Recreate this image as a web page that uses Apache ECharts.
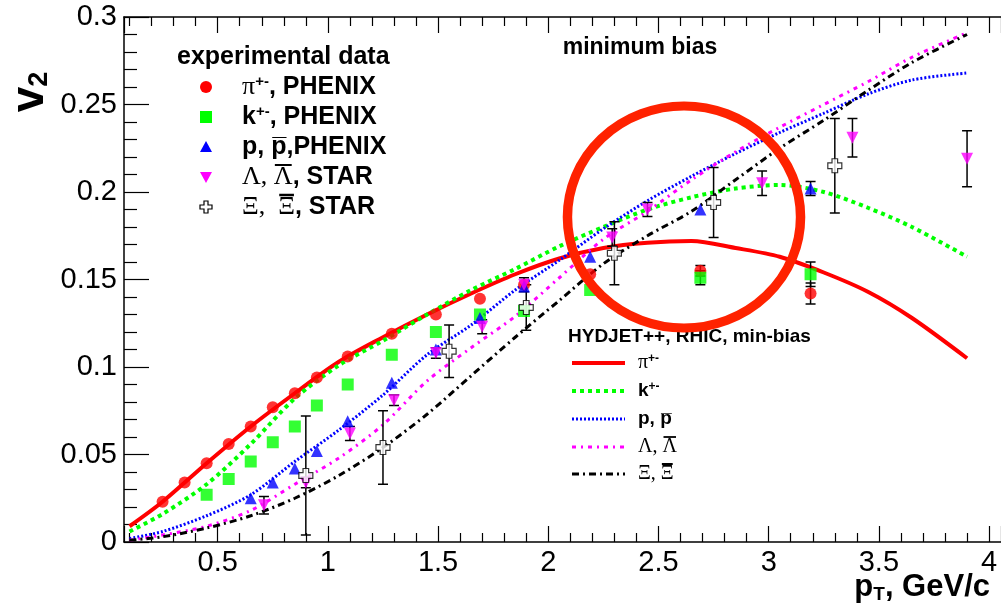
<!DOCTYPE html>
<html>
<head>
<meta charset="utf-8">
<script src="https://cdn.jsdelivr.net/npm/echarts@6/dist/echarts.min.js"></script>
<style>
  html, body { margin: 0; padding: 0; background: #fff; }
  #chart { width: 1001px; height: 609px; }
</style>
</head>
<body>
<div id="chart"></div>
<script>
// model curves (HYDJET++), common pT grid
const modelPt   = [0.1, 0.25, 0.45, 0.65, 0.85, 1.05, 1.25, 1.45, 1.65, 1.85, 2.05, 2.25, 2.45, 2.65, 2.85, 3.05, 3.25, 3.45, 3.65, 3.9];
const modelPi   = [0.009, 0.023, 0.045, 0.066, 0.085, 0.103, 0.117, 0.130, 0.142, 0.153, 0.162, 0.168, 0.171, 0.172, 0.168, 0.163, 0.154, 0.143, 0.128, 0.105];
const modelK    = [0.006, 0.016, 0.033, 0.056, 0.082, 0.101, 0.115, 0.130, 0.144, 0.156, 0.169, 0.180, 0.190, 0.197, 0.202, 0.204, 0.200, 0.191, 0.180, 0.163];
const modelP    = [0.002, 0.006, 0.015, 0.027, 0.046, 0.064, 0.084, 0.107, 0.124, 0.144, 0.161, 0.179, 0.195, 0.209, 0.222, 0.234, 0.245, 0.256, 0.264, 0.268];
const modelLam  = [0.001, 0.004, 0.009, 0.018, 0.033, 0.048, 0.067, 0.092, 0.111, 0.129, 0.151, 0.173, 0.189, 0.207, 0.223, 0.237, 0.250, 0.263, 0.277, 0.291];
const modelXi   = [0.001, 0.003, 0.008, 0.015, 0.025, 0.038, 0.054, 0.073, 0.095, 0.117, 0.138, 0.159, 0.175, 0.189, 0.207, 0.225, 0.241, 0.258, 0.274, 0.290];

// experimental data
const piPt  = [0.25, 0.35, 0.45, 0.55, 0.65, 0.75, 0.85, 0.95, 1.09, 1.29, 1.49, 1.69, 1.89, 2.19, 2.69, 3.19];
const piV2  = [0.023, 0.034, 0.045, 0.056, 0.066, 0.077, 0.085, 0.094, 0.106, 0.119, 0.130, 0.139, 0.147, 0.153, 0.155, 0.142];
const piErr = [0, 0, 0, 0, 0, 0, 0, 0, 0, 0, 0, 0, 0, 0, 0.003, 0.006];

const kPt  = [0.45, 0.55, 0.65, 0.75, 0.85, 0.95, 1.09, 1.29, 1.49, 1.69, 1.89, 2.19, 2.69, 3.19];
const kV2  = [0.027, 0.036, 0.046, 0.057, 0.066, 0.078, 0.090, 0.107, 0.120, 0.130, 0.132, 0.144, 0.151, 0.153];
const kErr = [0, 0, 0, 0, 0, 0, 0, 0, 0, 0, 0, 0, 0.004, 0.007];

const pPt  = [0.65, 0.75, 0.85, 0.95, 1.09, 1.29, 1.49, 1.69, 1.89, 2.19, 2.69, 3.19];
const pV2  = [0.025, 0.034, 0.042, 0.052, 0.069, 0.091, 0.110, 0.128, 0.146, 0.163, 0.190, 0.202];
const pErr = [0, 0, 0, 0, 0, 0, 0, 0, 0, 0, 0, 0.004];

const lamPt  = [0.71, 0.90, 1.10, 1.30, 1.49, 1.70, 1.89, 2.29, 2.45, 2.97, 3.38, 3.90];
const lamV2  = [0.021, 0.034, 0.062, 0.081, 0.108, 0.123, 0.147, 0.174, 0.190, 0.205, 0.231, 0.219];
const lamErr = [0.005, 0.003, 0.004, 0.003, 0.003, 0.004, 0.004, 0.005, 0.004, 0.007, 0.011, 0.016];

const xiPt  = [0.90, 1.25, 1.55, 1.90, 2.30, 2.75, 3.30];
const xiV2  = [0.038, 0.054, 0.109, 0.134, 0.165, 0.194, 0.215];
const xiErr = [0.034, 0.021, 0.015, 0.013, 0.018, 0.020, 0.027];

const SANS = 'Liberation Sans, Arial, DejaVu Sans, sans-serif';
const SERIF = 'Liberation Serif, Times New Roman, DejaVu Serif, serif';

const pairs = (xs, ys) => xs.map((x, i) => [x, ys[i]]);

function modelLine(name, ys, color, width, dash) {
  return {
    name: name, type: 'line', data: pairs(modelPt, ys),
    showSymbol: false, smooth: 0.3, z: 3,
    lineStyle: { color: color, width: width, type: dash }
  };
}

function points(name, xs, ys, symbol, size, color, extra) {
  return Object.assign({
    name: name, type: 'scatter', data: pairs(xs, ys),
    symbol: symbol, symbolSize: size, z: 5,
    itemStyle: { color: color }
  }, extra || {});
}

function errorBars(xs, ys, errs) {
  const data = [];
  xs.forEach((x, i) => {
    if (errs[i] > 0) data.push([x, Math.max(0, ys[i] - errs[i]), ys[i] + errs[i]]);
  });
  return {
    type: 'custom', data: data, z: 4,
    encode: { x: 0, y: [1, 2] },
    renderItem: (params, api) => {
      const lo = api.coord([api.value(0), api.value(1)]);
      const hi = api.coord([api.value(0), api.value(2)]);
      const st = { stroke: '#000', lineWidth: 1.5 };
      return {
        type: 'group', children: [
          { type: 'line', shape: { x1: lo[0], y1: lo[1], x2: hi[0], y2: hi[1] }, style: st },
          { type: 'line', shape: { x1: lo[0] - 5, y1: lo[1], x2: lo[0] + 5, y2: lo[1] }, style: st },
          { type: 'line', shape: { x1: hi[0] - 5, y1: hi[1], x2: hi[0] + 5, y2: hi[1] }, style: st }
        ]
      };
    }
  };
}

const crossPath = 'path://M3,0 H7 V3 H10 V7 H7 V10 H3 V7 H0 V3 H3 Z';

// text measuring, for the bars over the antiparticle symbols
const mctx = document.createElement('canvas').getContext('2d');
function textW(str, font) { mctx.font = font; return mctx.measureText(str).width; }

function overline(x, y, before, sym, font, width) {
  const x0 = x + textW(before, font);
  const x1 = x0 + textW(sym, font);
  return { type: 'line', shape: { x1: x0 + 1, y1: y, x2: x1 - 1, y2: y }, style: { stroke: '#000', lineWidth: width }, z: 20 };
}

const chart = echarts.init(document.getElementById('chart'));

const F1 = 25, F2 = 19;
const supRich = {
  g: { fontFamily: SERIF, fontSize: F1 + 1, color: '#000' },
  b: { fontFamily: SANS, fontSize: F1, fontWeight: 'bold', color: '#000' },
  sup: { fontFamily: SANS, fontSize: 15, fontWeight: 'bold', color: '#000', verticalAlign: 'top', padding: [0, 0, 11, 0] }
};
const supRich2 = {
  g: { fontFamily: SERIF, fontSize: F2 + 1, color: '#000' },
  b: { fontFamily: SANS, fontSize: F2, fontWeight: 'bold', color: '#000' },
  sup: { fontFamily: SANS, fontSize: 12, fontWeight: 'bold', color: '#000', verticalAlign: 'top', padding: [0, 0, 8, 0] }
};
const serif1 = (F1 + 1) + 'px ' + SERIF;
const serif2 = (F2 + 1) + 'px ' + SERIF;

function legText(x, y, text, rich) {
  return { type: 'text', x: x, y: y, style: { text: text, rich: rich, verticalAlign: 'middle', fill: '#000' }, z: 20 };
}

const leg1Y = [87, 117, 147, 177, 207];
const leg2Y = [363, 391, 419, 447, 474];

const graphics = [
  // annotation ring
  { type: 'circle', x: 684, y: 217, scaleX: 1.05, shape: { cx: 0, cy: 0, r: 111 },
    style: { fill: null, stroke: '#ff2200', lineWidth: 9 }, z: 30 },
  // title
  { type: 'text', x: 640, y: 48, style: { text: 'minimum bias', font: 'bold 23px ' + SANS, fill: '#000', align: 'center', verticalAlign: 'middle' }, z: 20 },
  // axis titles
  { type: 'text', x: 30, y: 92, rotation: Math.PI / 2,
    style: { text: '{v|v}{s|2}', align: 'center', verticalAlign: 'middle',
      rich: { v: { font: 'bold 46px ' + SANS, fill: '#000' }, s: { font: 'bold 27px ' + SANS, fill: '#000', verticalAlign: 'bottom', padding: [14, 0, 0, 0] } } }, z: 20 },
  { type: 'text', x: 990, y: 587,
    style: { text: '{p|p}{s|T}{b|, GeV/c}', align: 'right', verticalAlign: 'middle',
      rich: { p: { font: 'bold 31px ' + SANS, fill: '#000' }, s: { font: 'bold 19px ' + SANS, fill: '#000', verticalAlign: 'bottom', padding: [16, 0, 0, 0] }, b: { font: 'bold 31px ' + SANS, fill: '#000' } } }, z: 20 },
  // legend 1
  { type: 'text', x: 177, y: 57, style: { text: 'experimental data', font: 'bold 25px ' + SANS, fill: '#000', verticalAlign: 'middle' }, z: 20 },
  { type: 'circle', shape: { cx: 206, cy: leg1Y[0], r: 6 }, style: { fill: '#ff0000' }, z: 20 },
  { type: 'rect', shape: { x: 200, y: leg1Y[1] - 6, width: 12, height: 12 }, style: { fill: '#00ff00' }, z: 20 },
  { type: 'polygon', shape: { points: [[206, leg1Y[2] - 6], [212, leg1Y[2] + 5], [200, leg1Y[2] + 5]] }, style: { fill: '#0000ff' }, z: 20 },
  { type: 'polygon', shape: { points: [[200, leg1Y[3] - 5], [212, leg1Y[3] - 5], [206, leg1Y[3] + 6]] }, style: { fill: '#ff00ff' }, z: 20 },
  { type: 'polygon', shape: { points: [[204, 201], [208, 201], [208, 205], [212, 205], [212, 209], [208, 209], [208, 213], [204, 213], [204, 209], [200, 209], [200, 205], [204, 205]] },
    style: { fill: '#fff', stroke: '#000', lineWidth: 1.2 }, z: 20 },
  legText(242, leg1Y[0], '{g|\u03c0}{sup|+-}{b|, PHENIX}', supRich),
  legText(242, leg1Y[1], '{b|k}{sup|+-}{b|, PHENIX}', supRich),
  legText(242, leg1Y[2], '{b|p, p\u0305,PHENIX}', supRich),
  legText(242, leg1Y[3], '{g|\u039b, \u039b}{b|, STAR}', supRich),
  overline(242, leg1Y[3] - 12, '\u039b, ', '\u039b', serif1, 2),
  legText(242, leg1Y[4], '{g|\u039e,  \u039e}{b|, STAR}', supRich),
  overline(242, leg1Y[4] - 12, '\u039e,  ', '\u039e', serif1, 2.5),
  // legend 2
  { type: 'text', x: 568, y: 337, style: { text: 'HYDJET++, RHIC, min-bias', font: 'bold 19px ' + SANS, fill: '#000', verticalAlign: 'middle' }, z: 20 },
  { type: 'line', shape: { x1: 572, y1: leg2Y[0], x2: 625, y2: leg2Y[0] }, style: { stroke: '#ff0000', lineWidth: 4 }, z: 20 },
  { type: 'line', shape: { x1: 572, y1: leg2Y[1], x2: 625, y2: leg2Y[1] }, style: { stroke: '#00ff00', lineWidth: 4, lineDash: [4, 4] }, z: 20 },
  { type: 'line', shape: { x1: 572, y1: leg2Y[2], x2: 625, y2: leg2Y[2] }, style: { stroke: '#0000ff', lineWidth: 3, lineDash: [2, 2] }, z: 20 },
  { type: 'line', shape: { x1: 572, y1: leg2Y[3], x2: 625, y2: leg2Y[3] }, style: { stroke: '#ff00ff', lineWidth: 3, lineDash: [4, 5, 2, 5] }, z: 20 },
  { type: 'line', shape: { x1: 572, y1: leg2Y[4], x2: 625, y2: leg2Y[4] }, style: { stroke: '#000000', lineWidth: 3, lineDash: [7, 4, 2, 4] }, z: 20 },
  legText(638, leg2Y[0], '{g|\u03c0}{sup|+-}', supRich2),
  legText(638, leg2Y[1], '{b|k}{sup|+-}', supRich2),
  legText(638, leg2Y[2], '{b|p, p\u0305}', supRich2),
  legText(638, leg2Y[3], '{g|\u039b, \u039b}', supRich2),
  overline(638, leg2Y[3] - 10, '\u039b, ', '\u039b', serif2, 1.8),
  legText(638, leg2Y[4], '{g|\u039e, \u039e}', supRich2),
  overline(638, leg2Y[4] - 10, '\u039e, ', '\u039e', serif2, 2)
];

const xCommon = {
  type: 'value', min: 0.075, max: 4.054, minInterval: 0.5, maxInterval: 0.5,
  splitLine: { show: false },
  axisLine: { show: true, onZero: false, lineStyle: { color: '#000', width: 1.5 } },
  axisTick: { show: true, inside: true, length: 16, lineStyle: { color: '#000', width: 1.2 } },
  minorTick: { show: true, splitNumber: 5, length: 9, lineStyle: { color: '#000', width: 1.2 } }
};

option = {
  animation: false,
  backgroundColor: '#fff',
  grid: { left: 124, top: 17, right: -2, bottom: 67, containLabel: false },
  xAxis: [
    Object.assign({}, xCommon, {
      position: 'bottom',
      axisLabel: { show: true, color: '#000', fontSize: 29, fontFamily: SANS, margin: 6,
        showMinLabel: false, showMaxLabel: false }
    }),
    Object.assign({}, xCommon, { position: 'top', axisLabel: { show: false } })
  ],
  yAxis: {
    type: 'value', min: 0, max: 0.3, interval: 0.05,
    splitLine: { show: false },
    axisLine: { show: true, lineStyle: { color: '#000', width: 1.5 } },
    axisTick: { show: true, inside: true, length: 25, lineStyle: { color: '#000', width: 1.2 } },
    minorTick: { show: true, splitNumber: 5, length: 13, lineStyle: { color: '#000', width: 1.2 } },
    axisLabel: { color: '#000', fontSize: 29, fontFamily: SANS, margin: 7 }
  },
  graphic: graphics,
  series: [
    modelLine('model pi', modelPi, '#ff0000', 4, 'solid'),
    modelLine('model k', modelK, '#00ff00', 4, [4, 4]),
    modelLine('model p', modelP, '#0000ff', 3, [2, 2]),
    modelLine('model lambda', modelLam, '#ff00ff', 3, [4, 5, 2, 5]),
    modelLine('model xi', modelXi, '#000000', 3, [7, 4, 2, 4]),
    errorBars(piPt, piV2, piErr),
    errorBars(kPt, kV2, kErr),
    errorBars(pPt, pV2, pErr),
    errorBars(lamPt, lamV2, lamErr),
    errorBars(xiPt, xiV2, xiErr),
    points('pi PHENIX', piPt, piV2, 'circle', 12, '#ff0000'),
    points('k PHENIX', kPt, kV2, 'rect', 12, '#00ff00'),
    points('p PHENIX', pPt, pV2, 'triangle', 12, '#0000ff'),
    points('lambda STAR', lamPt, lamV2, 'triangle', 12, '#ff00ff', { symbolRotate: 180 }),
    points('xi STAR', xiPt, xiV2, crossPath, 14, '#ffffff',
      { itemStyle: { color: '#ffffff', borderColor: '#000', borderWidth: 1.2 }, z: 6 })
  ]
};

chart.setOption(option);
</script>
</body>
</html>
